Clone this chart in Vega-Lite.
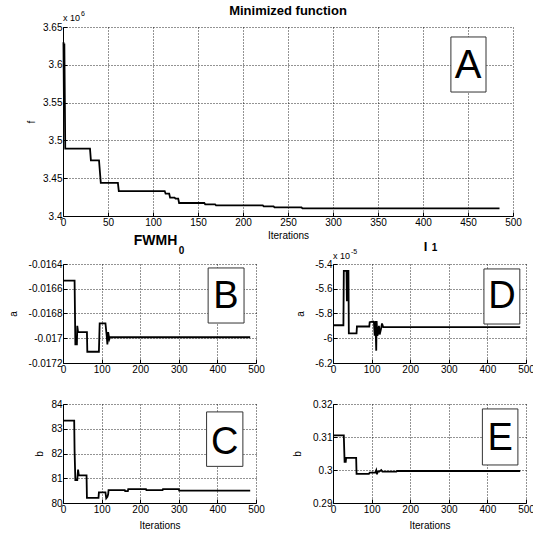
{
  "$schema": "https://vega.github.io/schema/vega-lite/v6.json",
  "background": "white",
  "padding": {"left": 8, "top": 5, "right": 0, "bottom": 0},
  "config": {
    "font": "Liberation Sans",
    "view": {"stroke": null},
    "axis": {
      "domainColor": "#000", "domainWidth": 1,
      "grid": true, "gridColor": "#000", "gridDash": [1, 2], "gridOpacity": 0.85, "gridWidth": 1,
      "tickColor": "#000", "tickSize": -4, "tickWidth": 1, "tickCount": 20,
      "labelFont": "Liberation Sans", "labelFontSize": 10, "labelColor": "#000", "labelPadding": 5,
      "labelFlush": false, "labelOverlap": false,
      "titleFont": "Liberation Sans", "titleFontSize": 10, "titleColor": "#000", "titleFontWeight": "normal"
    },
    "title": {"font": "Liberation Sans", "fontSize": 13, "fontWeight": "bold", "color": "#000", "anchor": "middle"},
    "locale": {"number": {"decimal": ".", "thousands": ",", "grouping": [3], "currency": ["$", ""], "minus": "-"}}
  },
  "datasets": {
    "A": [
      {"iteration": 0.5, "value": 3.630}, {"iteration": 1, "value": 3.556}, {"iteration": 1.5, "value": 3.628},
      {"iteration": 2, "value": 3.557}, {"iteration": 2.5, "value": 3.489}, {"iteration": 30, "value": 3.489},
      {"iteration": 31, "value": 3.4737}, {"iteration": 40, "value": 3.4737}, {"iteration": 42, "value": 3.4437},
      {"iteration": 61, "value": 3.4437}, {"iteration": 62, "value": 3.433}, {"iteration": 113, "value": 3.433},
      {"iteration": 114, "value": 3.4295}, {"iteration": 118, "value": 3.4295}, {"iteration": 119, "value": 3.4242},
      {"iteration": 124, "value": 3.4242}, {"iteration": 125, "value": 3.4229}, {"iteration": 128, "value": 3.4229},
      {"iteration": 129, "value": 3.4172}, {"iteration": 157, "value": 3.4172}, {"iteration": 158, "value": 3.4155},
      {"iteration": 169, "value": 3.4155}, {"iteration": 170, "value": 3.4141}, {"iteration": 222, "value": 3.4141},
      {"iteration": 223, "value": 3.4128}, {"iteration": 234, "value": 3.4128}, {"iteration": 235, "value": 3.4115},
      {"iteration": 265, "value": 3.4115}, {"iteration": 266, "value": 3.4102}, {"iteration": 485, "value": 3.4102}
    ],
    "B": [
      {"iteration": 0, "value": -0.016535}, {"iteration": 30, "value": -0.016535}, {"iteration": 32, "value": -0.01705},
      {"iteration": 36, "value": -0.01705}, {"iteration": 37, "value": -0.0169}, {"iteration": 39, "value": -0.01695},
      {"iteration": 62, "value": -0.01695}, {"iteration": 63, "value": -0.017109}, {"iteration": 93, "value": -0.017109},
      {"iteration": 95, "value": -0.01688}, {"iteration": 110, "value": -0.01688}, {"iteration": 113, "value": -0.016974},
      {"iteration": 115, "value": -0.01705}, {"iteration": 117, "value": -0.01695}, {"iteration": 120, "value": -0.017008},
      {"iteration": 122, "value": -0.016992}, {"iteration": 485, "value": -0.016992}
    ],
    "C": [
      {"iteration": 0, "value": 83.33}, {"iteration": 29, "value": 83.33}, {"iteration": 30, "value": 82.1},
      {"iteration": 32, "value": 80.93}, {"iteration": 37, "value": 80.93}, {"iteration": 39, "value": 81.35},
      {"iteration": 41, "value": 81.12}, {"iteration": 61, "value": 81.12}, {"iteration": 62, "value": 80.21},
      {"iteration": 92, "value": 80.21}, {"iteration": 93, "value": 80.43}, {"iteration": 110, "value": 80.43},
      {"iteration": 112, "value": 80.19}, {"iteration": 115, "value": 80.25}, {"iteration": 117, "value": 80.35},
      {"iteration": 118, "value": 80.52}, {"iteration": 160, "value": 80.52}, {"iteration": 161, "value": 80.48},
      {"iteration": 168, "value": 80.48}, {"iteration": 169, "value": 80.56}, {"iteration": 215, "value": 80.56},
      {"iteration": 216, "value": 80.52}, {"iteration": 258, "value": 80.52}, {"iteration": 259, "value": 80.56},
      {"iteration": 300, "value": 80.56}, {"iteration": 301, "value": 80.5}, {"iteration": 485, "value": 80.5}
    ],
    "D": [
      {"iteration": 0, "value": -5.895}, {"iteration": 27, "value": -5.895}, {"iteration": 28, "value": -5.455},
      {"iteration": 35, "value": -5.455}, {"iteration": 36, "value": -5.7}, {"iteration": 37, "value": -5.455},
      {"iteration": 40, "value": -5.455}, {"iteration": 41, "value": -5.96}, {"iteration": 61, "value": -5.96},
      {"iteration": 62, "value": -5.905}, {"iteration": 94, "value": -5.905}, {"iteration": 95, "value": -5.87},
      {"iteration": 104, "value": -5.865}, {"iteration": 106, "value": -5.87}, {"iteration": 108, "value": -5.98},
      {"iteration": 110, "value": -5.86}, {"iteration": 112, "value": -6.1}, {"iteration": 113, "value": -5.86},
      {"iteration": 115, "value": -5.98}, {"iteration": 117, "value": -5.96}, {"iteration": 119, "value": -5.9},
      {"iteration": 121, "value": -5.97}, {"iteration": 124, "value": -5.93}, {"iteration": 127, "value": -5.88},
      {"iteration": 130, "value": -5.91}, {"iteration": 485, "value": -5.91}
    ],
    "E": [
      {"iteration": 0, "value": 0.3105}, {"iteration": 28, "value": 0.3105}, {"iteration": 30, "value": 0.3025},
      {"iteration": 33, "value": 0.3025}, {"iteration": 34, "value": 0.3037}, {"iteration": 60, "value": 0.3037},
      {"iteration": 61, "value": 0.2988}, {"iteration": 93, "value": 0.2988}, {"iteration": 95, "value": 0.2992},
      {"iteration": 110, "value": 0.2993}, {"iteration": 112, "value": 0.2999}, {"iteration": 114, "value": 0.2987},
      {"iteration": 116, "value": 0.2996}, {"iteration": 120, "value": 0.2995}, {"iteration": 125, "value": 0.3},
      {"iteration": 128, "value": 0.2995}, {"iteration": 164, "value": 0.2995}, {"iteration": 166, "value": 0.2997},
      {"iteration": 485, "value": 0.2997}
    ]
  },
  "bounds": "flush",
  "spacing": 48,
  "vconcat": [
    {
      "width": 450, "height": 189,
      "title": {"text": "Minimized function", "offset": -8},
      "layer": [
        {
          "data": {"name": "A"},
          "mark": {"type": "line", "color": "#000", "strokeWidth": 1.8},
          "encoding": {
            "x": {"field": "iteration", "type": "quantitative", "scale": {"domain": [0, 500], "nice": false},
                  "axis": {"values": [0, 50, 100, 150, 200, 250, 300, 350, 400, 450, 500], "title": "Iterations", "titlePadding": 3}},
            "y": {"field": "value", "type": "quantitative", "scale": {"domain": [3.4, 3.65], "nice": false, "zero": false},
                  "axis": {"values": [3.4, 3.45, 3.5, 3.55, 3.6, 3.65], "format": ".2~f", "title": "f", "titlePadding": 6}}
          }
        },
        {
          "data": {"values": [{}]},
          "mark": {"type": "rect", "fill": "white", "stroke": "#333", "strokeWidth": 1},
          "encoding": {"x": {"datum": 431}, "x2": {"datum": 470}, "y": {"datum": 3.6368}, "y2": {"datum": 3.564}}
        },
        {
          "data": {"values": [{}]},
          "mark": {"type": "text", "fontSize": 40, "font": "Liberation Sans", "align": "center", "baseline": "alphabetic", "color": "#000"},
          "encoding": {"x": {"datum": 450}, "y": {"datum": 3.5825}, "text": {"value": "A"}}
        },
        {
          "data": {"values": [{}]},
          "mark": {"type": "text", "fontSize": 9, "align": "left", "baseline": "alphabetic", "dy": -6, "color": "#000"},
          "encoding": {"x": {"datum": 0}, "y": {"datum": 3.65}, "text": {"value": "x 10"}}
        },
        {
          "data": {"values": [{}]},
          "mark": {"type": "text", "fontSize": 7, "align": "left", "baseline": "alphabetic", "dx": 18, "dy": -11, "color": "#000"},
          "encoding": {"x": {"datum": 0}, "y": {"datum": 3.65}, "text": {"value": "6"}}
        }
      ]
    },
    {
      "bounds": "flush",
      "spacing": 140,
      "vconcat": [
        {
          "bounds": "flush",
          "spacing": 77,
          "hconcat": [
            {
              "width": 193, "height": 99,
              "title": {"text": "FWMH", "offset": -2, "dx": -4, "fontSize": 14},
              "layer": [
                {
                  "data": {"name": "B"},
                  "mark": {"type": "line", "color": "#000", "strokeWidth": 1.8},
                  "encoding": {
                    "x": {"field": "iteration", "type": "quantitative", "scale": {"domain": [0, 500], "nice": false},
                          "axis": {"values": [0, 100, 200, 300, 400, 500], "title": null}},
                    "y": {"field": "value", "type": "quantitative", "scale": {"domain": [-0.0172, -0.0164], "nice": false, "zero": false},
                          "axis": {"values": [-0.0172, -0.017, -0.0168, -0.0166, -0.0164], "format": ".4~f", "title": "a", "titlePadding": 10}}
                  }
                },
                {
                  "data": {"values": [{}]},
                  "mark": {"type": "rect", "fill": "white", "stroke": "#333", "strokeWidth": 1},
                  "encoding": {"x": {"datum": 376}, "x2": {"datum": 469}, "y": {"datum": -0.016432}, "y2": {"datum": -0.016877}}
                },
                {
                  "data": {"values": [{}]},
                  "mark": {"type": "text", "fontSize": 38, "font": "Liberation Sans", "align": "center", "baseline": "alphabetic", "color": "#000"},
                  "encoding": {"x": {"datum": 422}, "y": {"datum": -0.016758}, "text": {"value": "B"}}
                },
                {
                  "data": {"values": [{}]},
                  "mark": {"type": "text", "fontSize": 10, "fontWeight": "bold", "align": "left", "baseline": "alphabetic", "dy": -10, "color": "#000"},
                  "encoding": {"x": {"datum": 300}, "y": {"datum": -0.0164}, "text": {"value": "0"}}
                }
              ]
            },
            {
              "width": 193, "height": 99,
              "title": {"text": "I", "offset": -11, "dx": -4},
              "layer": [
                {
                  "data": {"name": "D"},
                  "mark": {"type": "line", "color": "#000", "strokeWidth": 1.8},
                  "encoding": {
                    "x": {"field": "iteration", "type": "quantitative", "scale": {"domain": [0, 500], "nice": false},
                          "axis": {"values": [0, 100, 200, 300, 400, 500], "title": null}},
                    "y": {"field": "value", "type": "quantitative", "scale": {"domain": [-6.2, -5.4], "nice": false, "zero": false},
                          "axis": {"values": [-6.2, -6, -5.8, -5.6, -5.4], "format": ".1~f", "title": "a", "titlePadding": 9}}
                  }
                },
                {
                  "data": {"values": [{}]},
                  "mark": {"type": "rect", "fill": "white", "stroke": "#333", "strokeWidth": 1},
                  "encoding": {"x": {"datum": 391}, "x2": {"datum": 484}, "y": {"datum": -5.44}, "y2": {"datum": -5.885}}
                },
                {
                  "data": {"values": [{}]},
                  "mark": {"type": "text", "fontSize": 38, "font": "Liberation Sans", "align": "center", "baseline": "alphabetic", "color": "#000"},
                  "encoding": {"x": {"datum": 438}, "y": {"datum": -5.7556}, "text": {"value": "D"}}
                },
                {
                  "data": {"values": [{}]},
                  "mark": {"type": "text", "fontSize": 9, "align": "left", "baseline": "alphabetic", "dy": -5, "color": "#000"},
                  "encoding": {"x": {"datum": 0}, "y": {"datum": -5.4}, "text": {"value": "x 10"}}
                },
                {
                  "data": {"values": [{}]},
                  "mark": {"type": "text", "fontSize": 7, "align": "left", "baseline": "alphabetic", "dx": 18, "dy": -10, "color": "#000"},
                  "encoding": {"x": {"datum": 0}, "y": {"datum": -5.4}, "text": {"value": "-5"}}
                },
                {
                  "data": {"values": [{}]},
                  "mark": {"type": "text", "fontSize": 10, "fontWeight": "bold", "align": "left", "baseline": "alphabetic", "dy": -13, "color": "#000"},
                  "encoding": {"x": {"datum": 256}, "y": {"datum": -5.4}, "text": {"value": "1"}}
                }
              ]
            }
          ]
        },
        {
          "bounds": "flush",
          "spacing": 77,
          "hconcat": [
            {
              "width": 193, "height": 99,
              "layer": [
                {
                  "data": {"name": "C"},
                  "mark": {"type": "line", "color": "#000", "strokeWidth": 1.8},
                  "encoding": {
                    "x": {"field": "iteration", "type": "quantitative", "scale": {"domain": [0, 500], "nice": false},
                          "axis": {"values": [0, 100, 200, 300, 400, 500], "title": "Iterations", "titlePadding": 6}},
                    "y": {"field": "value", "type": "quantitative", "scale": {"domain": [80, 84], "nice": false, "zero": false},
                          "axis": {"values": [80, 81, 82, 83, 84], "format": "d", "title": "b", "titlePadding": 6}}
                  }
                },
                {
                  "data": {"values": [{}]},
                  "mark": {"type": "rect", "fill": "white", "stroke": "#333", "strokeWidth": 1},
                  "encoding": {"x": {"datum": 372}, "x2": {"datum": 466}, "y": {"datum": 83.68}, "y2": {"datum": 81.48}}
                },
                {
                  "data": {"values": [{}]},
                  "mark": {"type": "text", "fontSize": 38, "font": "Liberation Sans", "align": "center", "baseline": "alphabetic", "color": "#000"},
                  "encoding": {"x": {"datum": 419}, "y": {"datum": 82.0}, "text": {"value": "C"}}
                }
              ]
            },
            {
              "width": 193, "height": 99,
              "layer": [
                {
                  "data": {"name": "E"},
                  "mark": {"type": "line", "color": "#000", "strokeWidth": 1.8},
                  "encoding": {
                    "x": {"field": "iteration", "type": "quantitative", "scale": {"domain": [0, 500], "nice": false},
                          "axis": {"values": [0, 100, 200, 300, 400, 500], "title": "Iterations", "titlePadding": 6}},
                    "y": {"field": "value", "type": "quantitative", "scale": {"domain": [0.29, 0.32], "nice": false, "zero": false},
                          "axis": {"values": [0.29, 0.3, 0.31, 0.32], "format": ".2~f", "title": "b", "titlePadding": 10}}
                  }
                },
                {
                  "data": {"values": [{}]},
                  "mark": {"type": "rect", "fill": "white", "stroke": "#333", "strokeWidth": 1},
                  "encoding": {"x": {"datum": 387}, "x2": {"datum": 479}, "y": {"datum": 0.3185}, "y2": {"datum": 0.30152}}
                },
                {
                  "data": {"values": [{}]},
                  "mark": {"type": "text", "fontSize": 38, "font": "Liberation Sans", "align": "center", "baseline": "alphabetic", "color": "#000"},
                  "encoding": {"x": {"datum": 433}, "y": {"datum": 0.30606}, "text": {"value": "E"}}
                }
              ]
            }
          ]
        }
      ]
    }
  ]
}
